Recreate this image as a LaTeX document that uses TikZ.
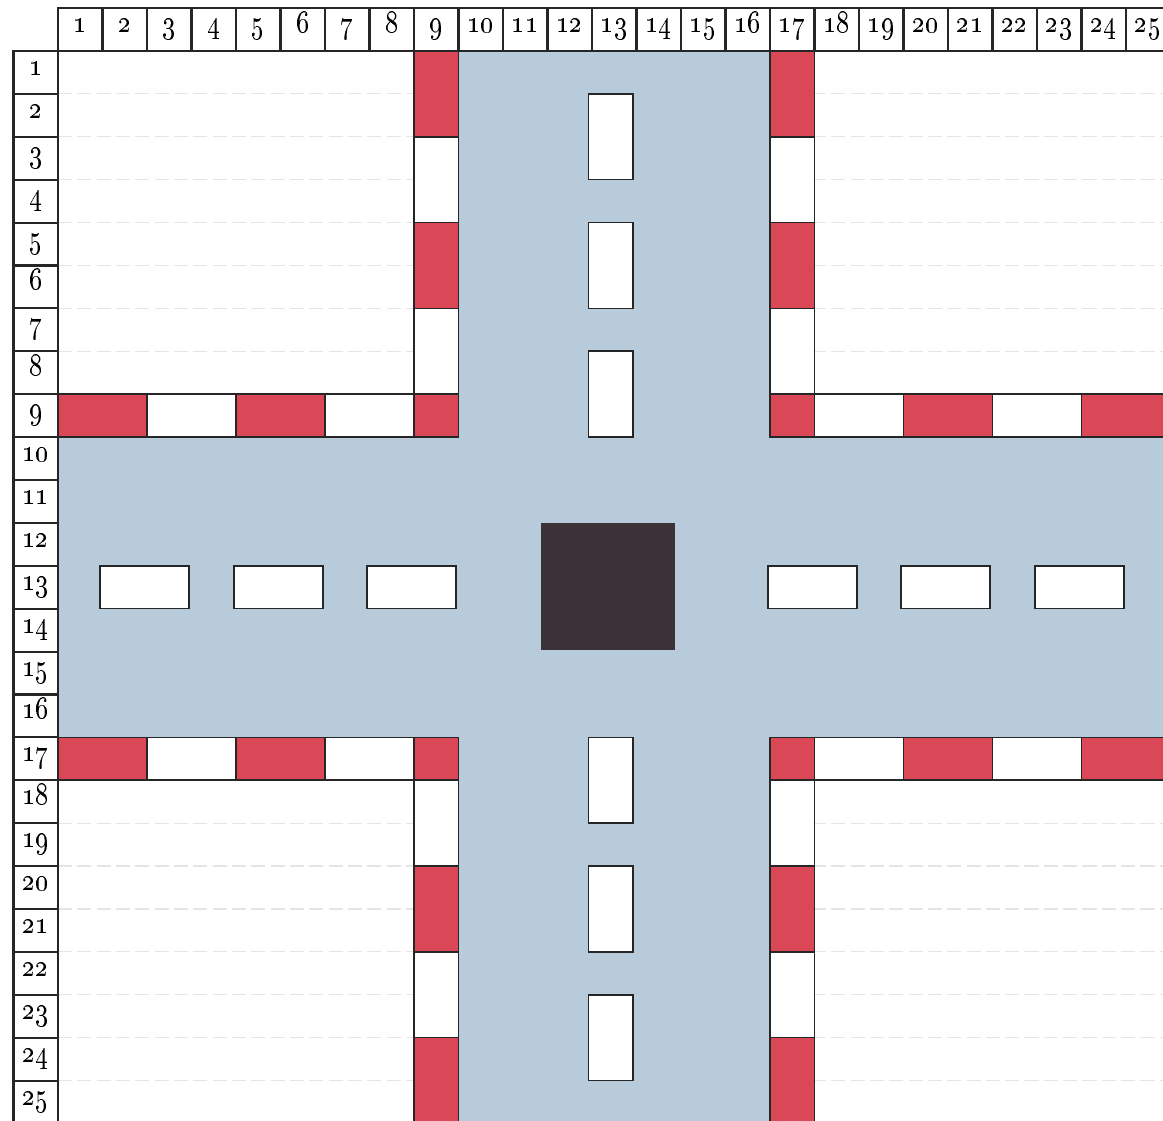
\documentclass[tikz,border=0pt]{standalone}
\definecolor{roadblue}{RGB}{183,203,218}
\definecolor{curbred}{RGB}{218,72,88}
\definecolor{darkbox}{RGB}{58,50,54}
\begin{document}
\begin{tikzpicture}[x=0.445cm, y=-0.429cm,
  hcell/.style={draw=black!85, line width=0.6pt},
  hlabel/.style={font=\fontsize{9}{11}\selectfont, anchor=base, inner sep=0pt, xscale=0.82, transform shape},
  faint/.style={draw=black!10, line width=0.35pt, dash pattern=on 4pt off 1.5pt},
  road/.style={fill=roadblue},
  curb/.style={draw=black!85, line width=0.45pt},
  lanemark/.style={fill=white, draw=black!85, line width=0.45pt},
  centerbox/.style={fill=darkbox}]
\useasboundingbox (-1.3034,-1.1888) rectangle (24.8315,24.9417);
\clip (-1.3034,-1.1888) rectangle (24.8315,24.9417);
\fill[white] (-1.3034,-1.1888) rectangle (24.8315,24.9417);
% faint ruled lines
\foreach \j in {1,...,24}
  \draw[faint] (0,\j) -- (25,\j);
% roads
\fill[road] (9,0) rectangle (16,25.5);
\fill[road] (0,9) rectangle (25.5,16);
% vertical curbs
\foreach \x in {8,16}{
  \foreach \y/\h/\c in {0/2/curbred, 2/2/white, 4/2/curbred, 6/2/white, 8/1/curbred,
                        16/1/curbred, 17/2/white, 19/2/curbred, 21/2/white, 23/2/curbred}
    \draw[curb, fill=\c] (\x,\y) rectangle ++(1,\h);
}
% horizontal curbs
\foreach \y in {8,16}{
  \foreach \x/\w/\c in {0/2/curbred, 2/2/white, 4/2/curbred, 6/2/white,
                        17/2/white, 19/2/curbred, 21/2/white, 23/2/curbred}
    \draw[curb, fill=\c] (\x,\y) rectangle ++(\w,1);
}
% lane marks vertical
\foreach \y in {1,4,7,16,19,22}
  \draw[lanemark] (11.92,\y) rectangle ++(1,2);
% lane marks horizontal
\foreach \x in {1,4,7,16,19,22}
  \draw[lanemark] (\x-0.05,12) rectangle ++(2,1);
% center box
\fill[centerbox] (10.85,11) rectangle (13.87,13.97);
% headers
\foreach \i in {1,...,25}{
  \draw[hcell] (\i-1,-1) rectangle (\i,0);
  \node[hlabel] (col\i) at (\i-0.5,-0.43) {\oldstylenums{\i}};
  \draw[hcell] (-1,\i-1) rectangle (0,\i);
  \node[hlabel] (row\i) at (-0.5,\i-0.43) {\oldstylenums{\i}};
}
\end{tikzpicture}
\end{document}
